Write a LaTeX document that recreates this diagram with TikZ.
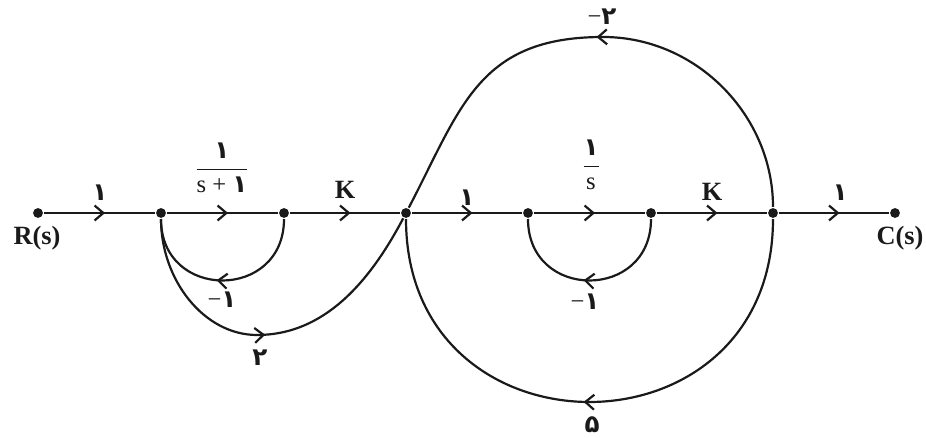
\documentclass[tikz,border=0pt]{standalone}
\usepackage{fontspec}
\setmainfont{Liberation Serif}
\newfontfamily\fadigit[Script=Arabic]{DejaVu Sans}
\usetikzlibrary{arrows.meta,decorations.markings}

\definecolor{graphInk}{HTML}{1A1A1A}

\tikzset{
  sfgdot/.style={circle,fill=graphInk,inner sep=0pt,minimum size=5.6pt},
  midarrow/.style={postaction={decorate},decoration={markings,
    mark=at position #1 with {\arrow{Straight Barb[length=5pt,width=8.5pt]}}}},
  midarrow/.default=0.55,
  gainlabel/.style={inner sep=0pt,font=\fontsize{14}{16}\selectfont},
  signallabel/.style={inner sep=0pt,font=\bfseries\fontsize{15}{18}\selectfont}
}

\begin{document}
\begin{tikzpicture}[x=0.02cm,y=0.02cm,line width=1.25pt,color=graphInk]
  \useasboundingbox (0,0) rectangle (926,438);

  \foreach \name/\x in {r/38,n1/161,n2/284,n3/406,n4/528,n5/651,n6/773,c/895}
    \node[sfgdot] (\name) at (\x,225) {};
  \coordinate (top) at (603,401);
  \coordinate (low) at (257,103);

  % forward path
  \foreach \a/\b in {r/n1,n1/n2,n2/n3,n3/n4,n4/n5,n5/n6,n6/c}
    \draw[midarrow] (\a) -- (\b);

  % loops and feed-forward branch
  \draw[midarrow=0.53] (n2) .. controls +(0,-88) and +(0,-88) .. (n1);
  \draw[midarrow=0.53] (n5) .. controls +(0,-88) and +(0,-88) .. (n4);
  \draw[midarrow=0.51] (n6) .. controls +(0,-250) and +(0,-250) .. (n3);
  \draw[midarrow=0.5] (n6) .. controls +(0,97) and +(94,0) .. (top)
    .. controls +(-125,0) and +(55,105) .. (n3);
  \draw[midarrow=0.48] (n1) .. controls +(0,-67) and +(-53,0) .. (low)
    .. controls +(60,0) and +(-42,-80) .. (n3);

  % gains
  \node[gainlabel] (g1) at (100,245) {\fadigit\bfseries ۱};
  \node[gainlabel] (g2) at (222,270) {$\displaystyle\frac{\hbox{\fadigit\bfseries ۱}}{\hbox{s + \fadigit\bfseries ۱}}$};
  \node[signallabel] (g3) at (345,248) {K};
  \node[gainlabel] (g4) at (467,240) {\fadigit\bfseries ۱};
  \node[gainlabel] (g5) at (591,273) {$\displaystyle\frac{\hbox{\fadigit\bfseries ۱}}{\hbox{s}}$};
  \node[signallabel] (g6) at (712,246) {K};
  \node[gainlabel] (g7) at (840,245) {\fadigit\bfseries ۱};
  \node[gainlabel] (h1) at (222,138) {−\fadigit\bfseries ۱};
  \node[gainlabel] (h2) at (585,136) {−\fadigit\bfseries ۱};
  \node[gainlabel] (h3) at (260,80) {\fadigit\bfseries ۲};
  \node[gainlabel] (h4) at (602,421) {−\fadigit\bfseries ۲};
  \node[gainlabel] (h5) at (592,13) {\fadigit\bfseries ۵};

  % input and output
  \node[signallabel] (rs) at (37,200) {R(s)};
  \node[signallabel] (cs) at (900,200) {C(s)};
\end{tikzpicture}
\end{document}
